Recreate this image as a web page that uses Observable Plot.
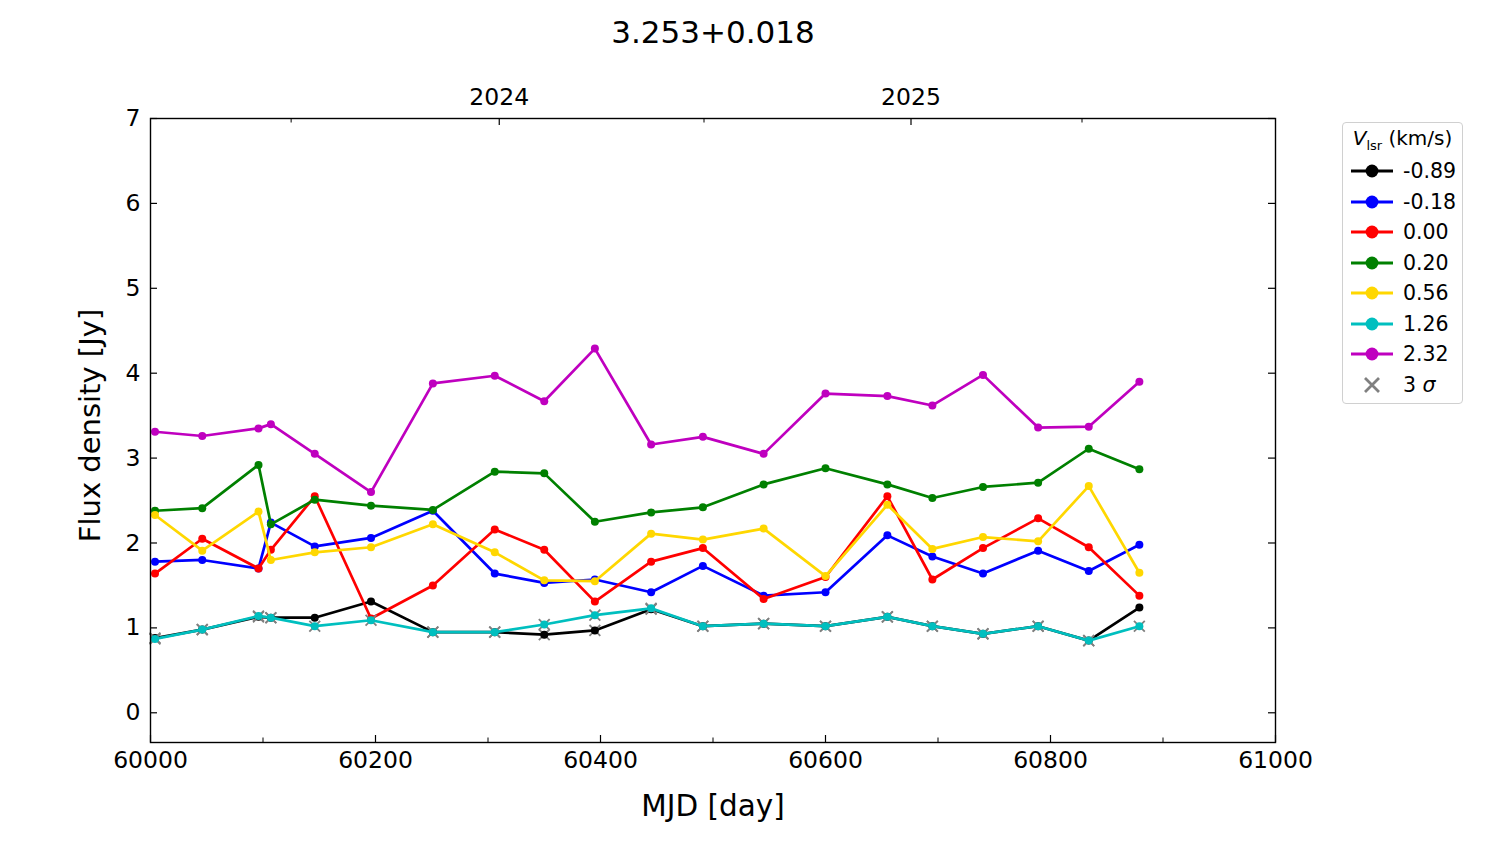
<!DOCTYPE html>
<html>
<head>
<meta charset="utf-8">
<script src="https://cdn.jsdelivr.net/npm/d3@7"></script>
<script src="https://cdn.jsdelivr.net/npm/@observablehq/plot@0.6"></script>
<style>
  html, body { margin: 0; padding: 0; background: #fff; }
  #wrap { position: relative; width: 1500px; height: 844px; font-family: "DejaVu Sans", sans-serif; }
  #legend { position: absolute; left: 1342px; top: 122px; width: 119px; height: 280px;
    border: 1px solid #d0d0d0; border-radius: 4px; background: #fff; box-sizing: content-box; }
  #legend .ttl { position: absolute; left: 0; width: 119px; top: 3px; text-align: center; font-size: 20px; line-height: 24px; }
  #legend .row { position: absolute; left: 6px; height: 30px; display: flex; align-items: center; }
  #legend .row span { font-size: 20.5px; margin-left: 10px; }
</style>
</head>
<body>
<div id="wrap"><div id="chart"></div><div id="legend"></div></div>
<script>
// ---- data ----
const mjd = [60004, 60046, 60096, 60107, 60146, 60196, 60251, 60306, 60350, 60395,
             60445, 60491, 60545, 60600, 60655, 60695, 60740, 60789, 60834, 60879];
const vlsr = ["-0.89", "-0.18", "0.00", "0.20", "0.56", "1.26", "2.32"];
const colors = ["#000000", "#0000ff", "#ff0000", "#008000", "#ffd700", "#00bfbf", "#bf00bf"];

const fluxM089 = [0.88, 0.98, 1.13, 1.12, 1.12, 1.31, 0.95, 0.95, 0.92, 0.97,
                  1.22, 1.02, 1.05, 1.02, 1.13, 1.02, 0.93, 1.02, 0.85, 1.24];
const fluxM018 = [1.78, 1.80, 1.70, 2.24, 1.96, 2.06, 2.38, 1.64, 1.53, 1.57,
                  1.42, 1.73, 1.38, 1.42, 2.09, 1.84, 1.64, 1.91, 1.67, 1.98];
const flux000  = [1.64, 2.05, 1.70, 1.92, 2.55, 1.11, 1.50, 2.16, 1.92, 1.31,
                  1.78, 1.94, 1.34, 1.60, 2.55, 1.57, 1.94, 2.29, 1.95, 1.38];
const flux020  = [2.38, 2.41, 2.92, 2.22, 2.51, 2.44, 2.39, 2.84, 2.82, 2.25,
                  2.36, 2.42, 2.69, 2.88, 2.69, 2.53, 2.66, 2.71, 3.11, 2.87];
const flux056  = [2.33, 1.91, 2.37, 1.80, 1.89, 1.95, 2.22, 1.89, 1.56, 1.55,
                  2.11, 2.04, 2.17, 1.61, 2.45, 1.93, 2.07, 2.02, 2.67, 1.65];
const flux126  = [0.87, 0.98, 1.14, 1.12, 1.02, 1.09, 0.95, 0.95, 1.04, 1.15,
                  1.23, 1.02, 1.05, 1.02, 1.13, 1.02, 0.93, 1.02, 0.85, 1.02];
const flux232  = [3.31, 3.26, 3.35, 3.40, 3.05, 2.60, 3.88, 3.97, 3.67, 4.29,
                  3.16, 3.25, 3.05, 3.76, 3.73, 3.62, 3.98, 3.36, 3.37, 3.90];
// 3-sigma upper-limit flags (1 = value is a 3 sigma limit)
const sigM089 = [1, 1, 1, 1, 0, 0, 1, 1, 1, 1, 1, 1, 1, 1, 1, 1, 1, 1, 1, 0];
const sigM018 = [0, 0, 0, 0, 0, 0, 0, 0, 0, 0, 0, 0, 0, 0, 0, 0, 0, 0, 0, 0];
const sig000  = [0, 0, 0, 0, 0, 0, 0, 0, 0, 0, 0, 0, 0, 0, 0, 0, 0, 0, 0, 0];
const sig020  = [0, 0, 0, 0, 0, 0, 0, 0, 0, 0, 0, 0, 0, 0, 0, 0, 0, 0, 0, 0];
const sig056  = [0, 0, 0, 0, 0, 0, 0, 0, 0, 0, 0, 0, 0, 0, 0, 0, 0, 0, 0, 0];
const sig126  = [1, 1, 1, 1, 1, 1, 1, 1, 1, 1, 1, 1, 1, 1, 1, 1, 1, 1, 1, 1];
const sig232  = [0, 0, 0, 0, 0, 0, 0, 0, 0, 0, 0, 0, 0, 0, 0, 0, 0, 0, 0, 0];

const xMajor = [60000, 60200, 60400, 60600, 60800, 61000];
const xMinor = [60100, 60300, 60500, 60700, 60900];
const yMajor = [0, 1, 2, 3, 4, 5, 6, 7];
const yearTicks = [60310, 60676];
const yearLabels = ["2024", "2025"];
const yearMinor = [60125, 60492, 60828];
const title = "3.253+0.018";
const xLabel = "MJD [day]";
const yLabel = "Flux density [Jy]";

// ---- build ----
const fluxes = [fluxM089, fluxM018, flux000, flux020, flux056, flux126, flux232];
const sigmas = [sigM089, sigM018, sig000, sig020, sig056, sig126, sig232];
const series = fluxes.map((f, i) => f.map((v, j) => ({mjd: mjd[j], flux: v, sig: sigmas[i][j], s: vlsr[i]})));

const W = 1500, H = 844, ML = 150, MR = 225, MT = 118, MB = 102;
const FW = W - ML - MR, FH = H - MT - MB;
const TMAJ = 7, TMIN = 4.5;

const marks = [];
series.forEach((rows, i) => {
  marks.push(Plot.line(rows, {x: "mjd", y: "flux", stroke: colors[i], strokeWidth: 2.7}));
  const lim = rows.filter(d => d.sig);
  if (lim.length) marks.push(Plot.dot(lim, {x: "mjd", y: "flux", symbol: "times", r: 5, stroke: "#808080", strokeWidth: 1.8}));
  marks.push(Plot.dot(rows, {x: "mjd", y: "flux", r: 4, fill: colors[i]}));
});

const chart = Plot.plot({
  width: W, height: H,
  marginLeft: ML, marginRight: MR, marginTop: MT, marginBottom: MB,
  style: {fontFamily: "DejaVu Sans, sans-serif", background: "white", color: "black", overflow: "visible"},
  x: {domain: [60000, 61000], axis: null},
  y: {domain: [-0.35, 7], axis: null},
  marks: [
    ...marks,
    Plot.frame({stroke: "black", strokeWidth: 1.4}),
    // bottom ticks (inward)
    Plot.ruleX(xMajor, {x: d => d, insetTop: FH - TMAJ, stroke: "black", strokeWidth: 1.2}),
    Plot.ruleX(xMinor, {x: d => d, insetTop: FH - TMIN, stroke: "black", strokeWidth: 1}),
    Plot.text(xMajor, {x: d => d, text: d => String(d), frameAnchor: "bottom", lineAnchor: "middle", dy: 18, fontSize: 23.5, fill: "black"}),
    // top year axis
    Plot.ruleX(yearTicks, {x: d => d, insetBottom: FH - TMAJ, stroke: "black", strokeWidth: 1.2}),
    Plot.ruleX(yearMinor, {x: d => d, insetBottom: FH - TMIN, stroke: "black", strokeWidth: 1}),
    Plot.text(yearTicks, {x: d => d, text: (d, i) => yearLabels[i], frameAnchor: "top", lineAnchor: "middle", dy: -21, fontSize: 23.5, fill: "black"}),
    // y ticks left & right (inward)
    Plot.ruleY(yMajor, {y: d => d, insetRight: FW - TMAJ, stroke: "black", strokeWidth: 1.2}),
    Plot.ruleY(yMajor, {y: d => d, insetLeft: FW - TMAJ, stroke: "black", strokeWidth: 1.2}),
    Plot.text(yMajor, {y: d => d, text: d => String(d), frameAnchor: "left", textAnchor: "end", lineAnchor: "middle", dx: -10, fontSize: 23.5, fill: "black"}),
    // labels and title
    Plot.text([xLabel], {text: d => d, frameAnchor: "bottom", lineAnchor: "middle", dy: 64, fontSize: 29.5, fill: "black"}),
    Plot.text([yLabel], {text: d => d, frameAnchor: "left", textAnchor: "middle", lineAnchor: "middle", rotate: -90, dx: -60, dy: -5, fontSize: 29, fill: "black"}),
    Plot.text([title], {text: d => d, frameAnchor: "top", lineAnchor: "middle", dy: -85, fontSize: 31, fill: "black"})
  ]
});
document.getElementById("chart").appendChild(chart);

// ---- legend ----
const legend = document.getElementById("legend");
const ttl = document.createElement("div");
ttl.className = "ttl";
ttl.innerHTML = '<i>V</i><sub style="font-size:13px">lsr</sub> (km/s)';
legend.appendChild(ttl);
const ns = "http://www.w3.org/2000/svg";
const entries = vlsr.map((v, i) => ({label: v, color: colors[i], kind: "dot"}))
  .concat([{label: "3 <i>σ</i>", color: "#808080", kind: "x"}]);
entries.forEach((e, i) => {
  const row = document.createElement("div");
  row.className = "row";
  row.style.top = (33 + i * 30.5) + "px";
  const svg = document.createElementNS(ns, "svg");
  svg.setAttribute("width", 44); svg.setAttribute("height", 16);
  if (e.kind === "dot") {
    const l = document.createElementNS(ns, "line");
    l.setAttribute("x1", 2); l.setAttribute("x2", 44); l.setAttribute("y1", 8); l.setAttribute("y2", 8);
    l.setAttribute("stroke", e.color); l.setAttribute("stroke-width", 2.8);
    svg.appendChild(l);
    const c = document.createElementNS(ns, "circle");
    c.setAttribute("cx", 23); c.setAttribute("cy", 8); c.setAttribute("r", 6.4); c.setAttribute("fill", e.color);
    svg.appendChild(c);
  } else {
    const p = document.createElementNS(ns, "path");
    p.setAttribute("d", "M16,1 L30,15 M30,1 L16,15");
    p.setAttribute("stroke", e.color); p.setAttribute("stroke-width", 2.8); p.setAttribute("fill", "none");
    svg.appendChild(p);
  }
  row.appendChild(svg);
  const sp = document.createElement("span");
  sp.innerHTML = e.label;
  row.appendChild(sp);
  legend.appendChild(row);
});
</script>
</body>
</html>
